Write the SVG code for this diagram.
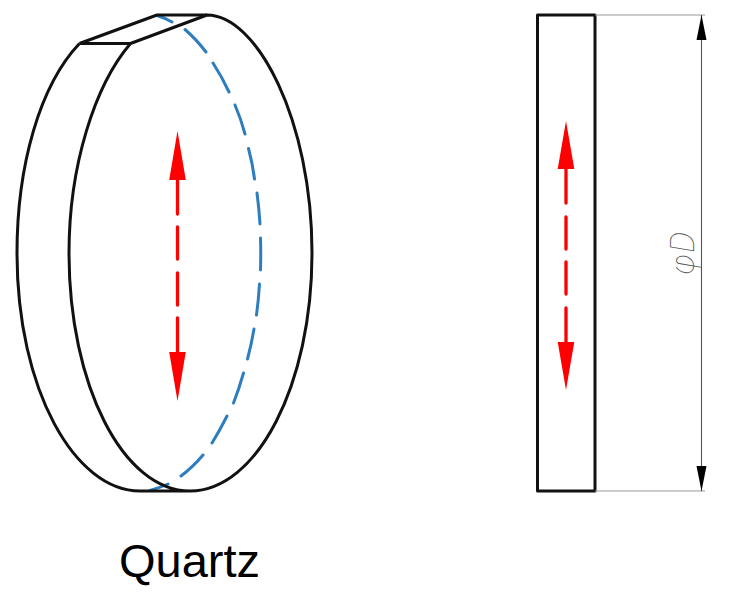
<svg xmlns="http://www.w3.org/2000/svg" width="752" height="598" viewBox="0 0 752 598">
<style>
.k{fill:none;stroke:#111;stroke-width:3;stroke-linejoin:round}
.b{fill:none;stroke:#2e7dbf;stroke-width:3;stroke-linecap:round}
.r{fill:none;stroke:#f00;stroke-width:3.3;stroke-linecap:round}
.rh{fill:#f00}
.g{fill:none;stroke:#999;stroke-width:1.2}
.d{fill:none;stroke:#555;stroke-width:1.1}
</style>
<rect width="752" height="598" fill="#fff"/>
<g id="disc-3d">
<path class="b" d="M157 15.500Q165 18 172 22M185 29.500Q196 39 206 52M213 63Q222 77 229 92M235 105Q241 119 245 134M248.500 148.500Q252.500 163 254.500 179M257 193Q259 208 260 224M260.500 238Q261 254 260.500 270M259.500 284Q258.500 300 256.500 315M254 329Q251.500 344 247.500 359M243.500 373Q239 389 233.500 403M227 416Q220 430 212 443M203 455Q193 467 181 476M168 484Q159 488 150 490.500"/>
<path class="k" d="M79.500 43.500C40 85 17 165 17 253C17 390 75 491 140 491H190C257 491 312 385 312 253C312 120 257 15 207 15L130.500 43.500C95 85 69 165 69 253C69 385 123 491 190 491"/>
<path class="k" d="M79.500 43.500H130.500M79.500 43.500L157 15H207"/>
</g>
<g id="disc-side">
<rect class="k" x="537.500" y="15" width="57.500" height="476"/>
</g>
<g id="dimension">
<path class="g" d="M595 15H705M595 491H705"/>
<path class="d" d="M701.500 15V491"/>
<path d="M701.500 15L706.500 40H696.500ZM701.500 491L706.500 466H696.500Z" fill="#000"/>
<text transform="translate(694 275) rotate(-90)" font-family="Roboto, 'Liberation Sans', sans-serif" font-weight="100" font-style="italic" font-size="33" fill="#555">φ<tspan dx="1">D</tspan></text>
</g>
<g id="polarization-3d">
<path class="r" d="M177.500 175V214M177.500 227V259M177.500 273V305M177.500 318V356"/>
<path class="rh" d="M177.500 131L185.800 180H169.200ZM177.500 401L185.800 352H169.200Z"/>
</g>
<g id="polarization-side">
<path class="r" d="M566 165V203M566 217V249M566 262V294M566 308V346"/>
<path class="rh" d="M566 121L574.300 169H557.700ZM566 390L574.300 342H557.700Z"/>
</g>
<text id="label" x="119" y="577" font-family="'Liberation Sans', Arial, sans-serif" font-size="47" fill="#000">Quartz</text>
</svg>
